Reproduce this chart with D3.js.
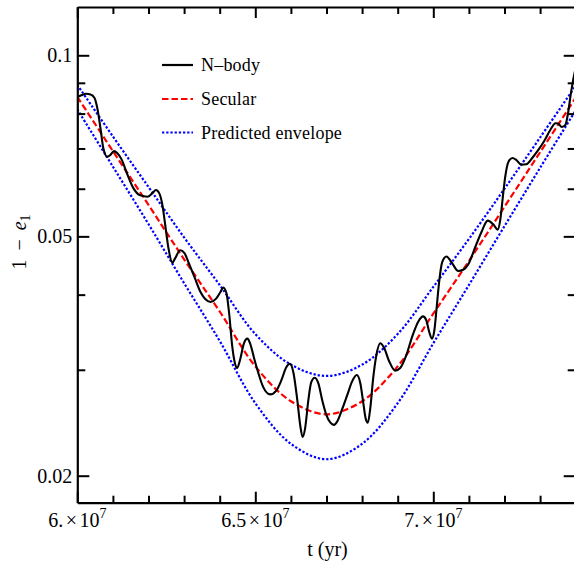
<!DOCTYPE html>
<html><head><meta charset="utf-8">
<script src="https://cdn.jsdelivr.net/npm/d3@7"></script>
<style>
body{margin:0;background:#fff}
svg{display:block}
text{font-family:"Liberation Serif","Times New Roman",serif;fill:#000}
</style>
</head><body>
<svg id="c" width="574" height="564"></svg>
<script>
// time in units of 1e7 yr
const secularT = [6.0,6.1,6.2,6.3,6.4,6.5,6.6,6.7,6.8,6.9,7.0,7.1,7.2,7.3,7.4];
const secularV = [0.0853,0.0693,0.0564,0.0458,0.0375,0.0304,0.0266,0.0253,0.0266,0.0304,0.0372,0.0455,0.0560,0.0690,0.0850];
const envUpperV = [0.0893,0.0733,0.0604,0.0498,0.0415,0.0344,0.0306,0.0293,0.0306,0.0344,0.0412,0.0495,0.0600,0.0730,0.0890];
const envLowerV = [0.0813,0.0653,0.0524,0.0418,0.0335,0.0264,0.0226,0.0213,0.0226,0.0264,0.0332,0.0415,0.0520,0.0650,0.0810];

const nbodyT = [
6.000,6.011,6.025,6.037,6.048,6.056,6.065,6.073,6.084,6.093,
6.103,6.112,6.124,6.140,6.157,6.177,6.197,6.211,6.221,6.230,
6.239,6.247,6.256,6.267,6.275,6.289,6.301,6.312,6.329,6.346,
6.360,6.374,6.390,6.402,6.410,6.419,6.427,6.435,6.442,6.449,
6.458,6.468,6.478,6.486,6.497,6.508,6.522,6.542,6.559,6.573,
6.587,6.597,6.607,6.618,6.626,6.633,6.640,6.649,6.657,6.667,
6.677,6.688,6.699,6.711,6.721,6.730,6.744,6.758,6.772,6.785,
6.795,6.803,6.810,6.816,6.823,6.831,6.840,6.851,6.862,6.876,
6.893,6.907,6.924,6.941,6.958,6.971,6.980,6.989,6.996,7.003,
7.010,7.017,7.025,7.037,7.051,7.070,7.084,7.098,7.118,7.135,
7.153,7.169,7.181,7.188,7.195,7.202,7.211,7.222,7.233,7.247,
7.261,7.278,7.295,7.312,7.329,7.343,7.351,7.361,7.371,7.379,
7.386,7.393,7.400];
const nbodyV = [
0.0852,0.0858,0.0863,0.0861,0.0850,0.0818,0.0757,0.0701,0.0678,0.0683,
0.0693,0.0688,0.0672,0.0635,0.0602,0.0585,0.0582,0.0590,0.0597,0.0590,
0.0564,0.0522,0.0478,0.0452,0.0460,0.0474,0.0469,0.0453,0.0428,0.0404,
0.0393,0.0389,0.0394,0.0404,0.0411,0.0402,0.0370,0.0329,0.0309,0.0302,
0.0313,0.0332,0.0338,0.0331,0.0313,0.0297,0.0281,0.0273,0.0277,0.0288,
0.0303,0.0307,0.0297,0.0267,0.0243,0.0232,0.0240,0.0267,0.0286,0.0291,
0.0285,0.0267,0.0253,0.0245,0.0243,0.0246,0.0258,0.0272,0.0287,0.0294,
0.0285,0.0265,0.0249,0.0245,0.0259,0.0290,0.0317,0.0332,0.0326,0.0310,
0.0299,0.0302,0.0317,0.0341,0.0361,0.0368,0.0363,0.0346,0.0338,0.0349,
0.0384,0.0423,0.0453,0.0463,0.0453,0.0438,0.0440,0.0449,0.0480,0.0508,
0.0531,0.0523,0.0513,0.0532,0.0579,0.0628,0.0665,0.0675,0.0670,0.0658,
0.0659,0.0675,0.0696,0.0721,0.0752,0.0771,0.0770,0.0760,0.0766,0.0805,
0.0860,0.0911,0.0954];

const xTickMajor = [6.0, 6.5, 7.0];
const xTickMantissa = ["6.", "6.5", "7."];
const xTickExp = "7";
const xTickMinor = [6.1,6.2,6.3,6.4,6.6,6.7,6.8,6.9,7.1,7.2,7.3];
const yTickMajor = [0.02, 0.05, 0.1];
const yTickLabels = ["0.02", "0.05", "0.1"];
const yTickMinor = [0.03,0.04,0.06,0.07,0.08,0.09];
const legendLabels = ["N\u2013body", "Secular", "Predicted envelope"];
const xTitle = "t (yr)";

const svg = d3.select("#c");
const L = 77.3, R = 575.7, T = 7, B = 502.7;
const x = d3.scaleLinear().domain([6.0, 7.4]).range([L, R]);
const y = d3.scaleLog().domain([0.018036, 0.12031]).range([B, T]);

svg.append("defs").append("clipPath").attr("id","clip")
  .append("rect").attr("x",L).attr("y",T).attr("width",R-L).attr("height",B-T);

const plot = svg.append("g").attr("clip-path","url(#clip)");
const lineCR = d3.line().x(d=>x(d[0])).y(d=>y(d[1])).curve(d3.curveCatmullRom.alpha(0.5));
const lineMono = d3.line().x(d=>x(d[0])).y(d=>y(d[1])).curve(d3.curveMonotoneX);

const up = secularT.map((t,i)=>[t, envUpperV[i]]);
const lo = secularT.map((t,i)=>[t, envLowerV[i]]);
const sec = secularT.map((t,i)=>[t, secularV[i]]);
const nb = nbodyT.map((t,i)=>[t, nbodyV[i]]);

plot.append("path").attr("d", lineCR(up)).attr("fill","none").attr("stroke","#0000ff").attr("stroke-width",2.2).attr("stroke-dasharray","2.3,1.9");
plot.append("path").attr("d", lineCR(lo)).attr("fill","none").attr("stroke","#0000ff").attr("stroke-width",2.2).attr("stroke-dasharray","2.3,1.9");
plot.append("path").attr("d", lineCR(sec)).attr("fill","none").attr("stroke","#ff0000").attr("stroke-width",2.2).attr("stroke-dasharray","6.5,3");
plot.append("path").attr("d", lineMono(nb)).attr("fill","none").attr("stroke","#000").attr("stroke-width",2.1);

function styleAxis(g, keepDomain){
  g.selectAll("text").remove();
  g.selectAll(".tick line").attr("stroke","#000").attr("stroke-width",2);
  if(keepDomain) g.select(".domain").attr("stroke","#000").attr("stroke-width",2.2);
  else g.select(".domain").remove();
}
// bottom
svg.append("g").attr("transform",`translate(0,${B})`).call(d3.axisBottom(x).tickValues(xTickMinor).tickSize(-7).tickSizeOuter(0)).call(g=>styleAxis(g,false));
svg.append("g").attr("transform",`translate(0,${B})`).call(d3.axisBottom(x).tickValues(xTickMajor).tickSize(-11).tickSizeOuter(0)).call(g=>styleAxis(g,true));
// top
svg.append("g").attr("transform",`translate(0,${T})`).call(d3.axisTop(x).tickValues(xTickMinor).tickSize(-7).tickSizeOuter(0)).call(g=>styleAxis(g,false));
svg.append("g").attr("transform",`translate(0,${T})`).call(d3.axisTop(x).tickValues(xTickMajor).tickSize(-11).tickSizeOuter(0)).call(g=>styleAxis(g,true));
// left
svg.append("g").attr("transform",`translate(${L},0)`).call(d3.axisLeft(y).tickValues(yTickMinor).tickSize(-8).tickSizeOuter(0)).call(g=>styleAxis(g,false));
svg.append("g").attr("transform",`translate(${L},0)`).call(d3.axisLeft(y).tickValues(yTickMajor).tickSize(-12).tickSizeOuter(0)).call(g=>styleAxis(g,true));
// right
svg.append("g").attr("transform",`translate(${R},0)`).call(d3.axisRight(y).tickValues(yTickMinor).tickSize(-8).tickSizeOuter(0)).call(g=>styleAxis(g,false));
svg.append("g").attr("transform",`translate(${R},0)`).call(d3.axisRight(y).tickValues(yTickMajor).tickSize(-12).tickSizeOuter(0)).call(g=>styleAxis(g,true));

// y tick labels
yTickMajor.forEach((v,i)=>{
  svg.append("text").attr("x", L-5).attr("y", y(v)+7).attr("text-anchor","end")
    .attr("font-size",20).text(yTickLabels[i]);
});
// x tick labels
xTickMajor.forEach((v,i)=>{
  const t = svg.append("text").attr("x", x(v)).attr("y", 527).attr("text-anchor","middle").attr("font-size",20);
  t.append("tspan").text(xTickMantissa[i]);
  t.append("tspan").attr("dx",2.5).text("\u00d7");
  t.append("tspan").attr("dx",2.5).text("10");
  t.append("tspan").attr("dy",-9).attr("font-size",14).text(xTickExp);
});
// axis titles
svg.append("text").attr("x", (L+R)/2+1).attr("y", 556).attr("text-anchor","middle").attr("font-size",20).text(xTitle);
const yl = svg.append("text").attr("transform","translate(26,242) rotate(-90)").attr("text-anchor","middle").attr("font-size",20);
yl.append("tspan").text("1");
yl.append("tspan").attr("dx",9).text("\u2212");
yl.append("tspan").attr("dx",9).attr("font-style","italic").text("e");
yl.append("tspan").attr("dy",4).attr("font-size",14).text("1");

// legend
const legY = [65, 99, 132.5];
const legStyles = [
  {c:"#000", d:null},
  {c:"#ff0000", d:"6.5,3"},
  {c:"#0000ff", d:"2.3,1.9"}
];
legendLabels.forEach((lab,i)=>{
  const ln = svg.append("line").attr("x1",162).attr("x2",193).attr("y1",legY[i]).attr("y2",legY[i])
    .attr("stroke",legStyles[i].c).attr("stroke-width",2.2);
  if(legStyles[i].d) ln.attr("stroke-dasharray",legStyles[i].d);
  svg.append("text").attr("x",201).attr("y",legY[i]+6).attr("font-size",18)
    .attr("letter-spacing",0.2).text(lab);
});
</script>
</body></html>
